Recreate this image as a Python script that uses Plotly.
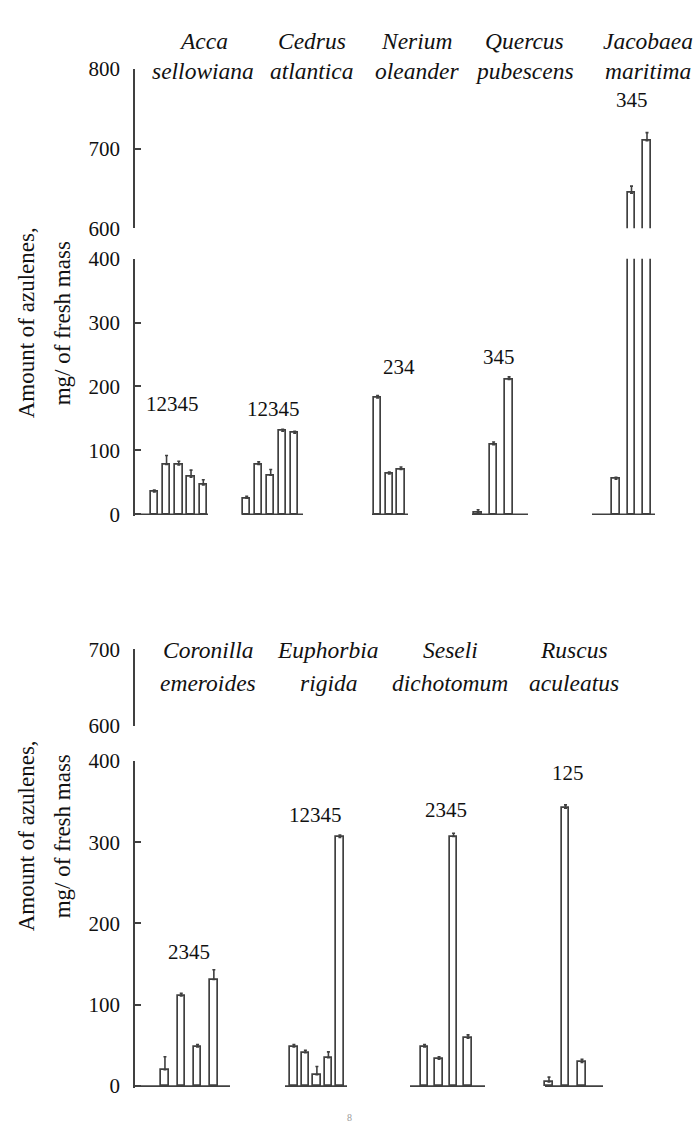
import plotly.graph_objects as go

W, H = 699, 1146

# ---------------- data ----------------
top_species = ["Acca sellowiana", "Cedrus atlantica", "Nerium oleander",
               "Quercus pubescens", "Jacobaea maritima"]
top_samples = ["12345", "12345", "234", "345", "345"]
top_values = [
    [35, 78, 77, 58, 46],
    [25, 78, 61, 130, 127],
    [182, 63, 70],
    [3, 109, 211],
    [55, 644, 710],
]
top_errors = [
    [3, 14, 6, 11, 8],
    [3, 4, 9, 3, 3],
    [4, 3, 4],
    [4, 4, 4],
    [3, 9, 10],
]

bottom_species = ["Coronilla emeroides", "Euphorbia rigida",
                  "Seseli dichotomum", "Ruscus aculeatus"]
bottom_samples = ["2345", "12345", "2345", "125"]
bottom_values = [
    [20, 111, 48, 131],
    [48, 41, 14, 35, 306],
    [48, 33, 307, 59],
    [5, 342, 29],
]
bottom_errors = [
    [16, 3, 3, 12],
    [3, 3, 10, 7, 3],
    [3, 3, 4, 4],
    [6, 4, 4],
]

top_upper_ticks = [600, 700, 800]
bottom_upper_ticks = [600, 700]
lower_ticks = [0, 100, 200, 300, 400]
y_title_lines = ["Amount of azulenes,", "mg/ of fresh mass"]
page_number = "8"

# ---------------- layout (page pixels) ----------------
AXIS_X = 134
INK = "#404040"
TEXT = "#111111"
SERIF = "Liberation Serif"

panels = [
    dict(
        species=top_species, samples=top_samples,
        values=top_values, errors=top_errors,
        upper_ticks=top_upper_ticks,
        # (value, pixel row) at both ends of each axis segment
        upper=((600, 221), (800, 58)),
        lower=((0, 513), (400, 252)),
        centers=[178.8, 270.7, 389.3, 493.6, 631.5],
        steps=[12.25, 12.0, 11.7, 15.5, 15.5],
        spans=[(134, 208), (242, 303), (372, 408), (472, 528), (592, 655)],
        title_x=[203, 312, 417, 524, 648],
        title_y=(30, 60),
        label_xy=[(172, 400), (273, 405), (399, 363), (499, 352), (632, 90)],
        ytitle_y=318,
    ),
    dict(
        species=bottom_species, samples=bottom_samples,
        values=bottom_values, errors=bottom_errors,
        upper_ticks=bottom_upper_ticks,
        upper=((600, 729), (700, 651)),
        lower=((0, 1097), (400, 765)),
        centers=[189.4, 316.9, 446.3, 565.5],
        steps=[16.3, 11.5, 14.5, 16.5],
        spans=[(134, 230), (285, 347), (410, 485), (545, 603)],
        title_x=[208, 328, 450, 574],
        title_y=(652, 685),
        label_xy=[(189, 960), (315, 820), (446, 815), (568, 777)],
        ytitle_y=842,
    ),
]


def fy(py):
    return 1 - py / H


def fx(px):
    return px / W


fig = go.Figure()
annotations = []
layout_axes = {}
axis_no = 0

for panel in panels:
    for part, ticks, pad in (("upper", panel["upper_ticks"], 0.0),
                             ("lower", lower_ticks, 2.0)):
        axis_no += 1
        yname = "y" if axis_no == 1 else f"y{axis_no}"
        key = "yaxis" if axis_no == 1 else f"yaxis{axis_no}"
        (v0, p0), (v1, p1) = panel[part]
        k = (p0 - p1) / (v1 - v0)          # pixels per unit
        rmin = v0 - pad / k
        layout_axes[key] = dict(
            domain=[fy(p0 + pad), fy(p1)],
            range=[rmin, v1],
            anchor="free", position=fx(AXIS_X),
            tickvals=ticks, ticks="inside", ticklen=6, tickwidth=1.6,
            tickcolor=INK, showline=True, linecolor=INK, linewidth=1.7,
            showgrid=False, zeroline=False,
            tickfont=dict(family=SERIF, size=21, color=TEXT),
            ticklabelstandoff=9, fixedrange=True,
        )

        for g, vals in enumerate(panel["values"]):
            n = len(vals)
            c, s = panel["centers"][g], panel["steps"][g]
            xs = [c + (i - (n - 1) / 2) * s for i in range(n)]
            errs = panel["errors"][g]
            fig.add_trace(go.Bar(
                x=xs, y=vals, width=7.5, xaxis="x", yaxis=yname,
                marker=dict(color="white", line=dict(color=INK, width=1.7)),
                error_y=dict(type="data", symmetric=False, array=errs,
                             arrayminus=[0] * n, color=INK,
                             thickness=1.6, width=1.5),
                showlegend=False, hoverinfo="skip",
            ))
            if part == "lower":
                x0, x1 = panel["spans"][g]
                fig.add_trace(go.Scatter(
                    x=[x0, x1], y=[0, 0], mode="lines", xaxis="x",
                    yaxis=yname, line=dict(color=INK, width=1.7),
                    showlegend=False, hoverinfo="skip",
                ))

    # species names (two italic lines) and sample numbers
    for g, name in enumerate(panel["species"]):
        genus, epithet = name.split(" ", 1)
        for word, py in zip((genus, epithet), panel["title_y"]):
            annotations.append(dict(
                text=f"<i>{word}</i>", x=fx(panel["title_x"][g]), y=fy(py),
                xref="paper", yref="paper", showarrow=False,
                xanchor="center", yanchor="middle",
                font=dict(family=SERIF, size=23.5, color=TEXT),
            ))
        lx, ly = panel["label_xy"][g]
        annotations.append(dict(
            text=panel["samples"][g], x=fx(lx), y=fy(ly),
            xref="paper", yref="paper", showarrow=False,
            xanchor="center", yanchor="middle",
            font=dict(family=SERIF, size=21, color=TEXT),
        ))

    # rotated y-axis title, two lines
    for line, px in zip(y_title_lines, (26, 62)):
        annotations.append(dict(
            text=line, x=fx(px), y=fy(panel["ytitle_y"]),
            xref="paper", yref="paper", showarrow=False, textangle=-90,
            xanchor="center", yanchor="middle",
            font=dict(family=SERIF, size=23, color=TEXT),
        ))

annotations.append(dict(
    text=page_number, x=fx(349), y=fy(1137), xref="paper", yref="paper",
    showarrow=False, font=dict(family=SERIF, size=10, color="#9a9a9a"),
))

fig.update_layout(
    width=W, height=H,
    margin=dict(l=0, r=0, t=0, b=0),
    paper_bgcolor="white", plot_bgcolor="rgba(0,0,0,0)",
    xaxis=dict(range=[0, W], domain=[0, 1], visible=False, fixedrange=True),
    bargap=0, annotations=annotations,
    **layout_axes,
)

# page body without default margin so the figure sits at the window origin
fig.write_html(
    "out.html",
    config={"displayModeBar": False},
    post_script="document.body.style.margin='0';"
                "document.body.style.overflow='hidden';",
)
